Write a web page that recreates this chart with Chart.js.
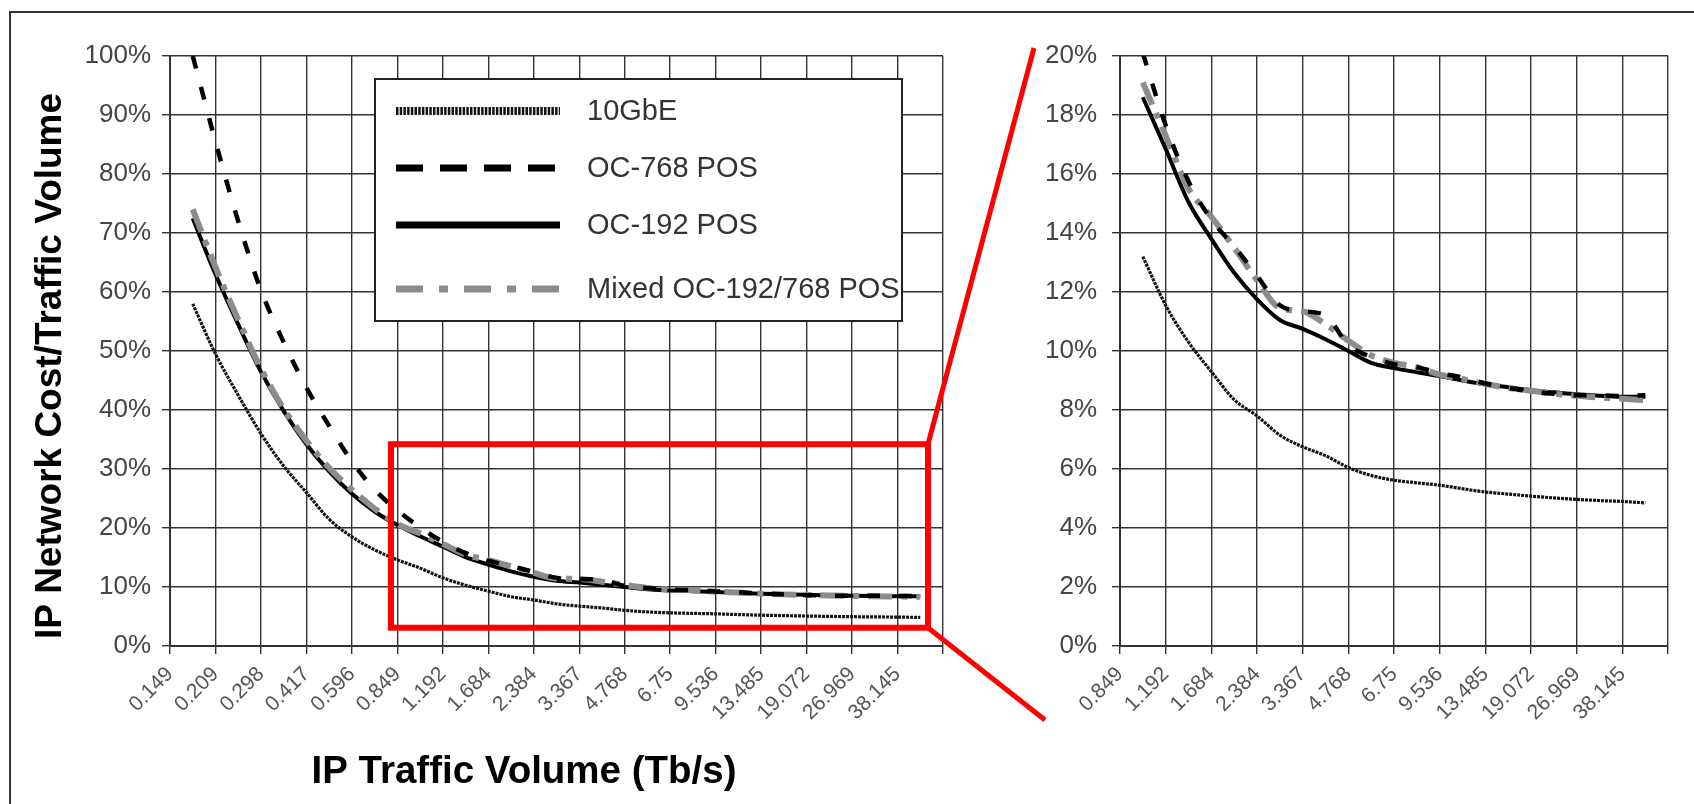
<!DOCTYPE html>
<html>
<head>
<meta charset="utf-8">
<script src="https://cdn.jsdelivr.net/npm/chart.js@4.4.1/dist/chart.umd.min.js"></script>
<style>
    html, body { margin: 0; padding: 0; background: #fff; }
    body { width: 1694px; height: 804px; position: relative; overflow: hidden; }
    .frame { position: absolute; left: 9px; top: 11px; width: 1720px; height: 820px;
             border-top: 2px solid #333; border-left: 2px solid #333; }
    #leftWrap { position: absolute; left: 0; top: 0; width: 1060px; height: 804px; }
    #rightWrap { position: absolute; left: 1000px; top: 0; width: 694px; height: 804px; }
</style>
</head>
<body>
<div class="frame"></div>
<div id="leftWrap"><canvas id="leftChart"></canvas></div>
<div id="rightWrap"><canvas id="rightChart"></canvas></div>
<script>
// Category tick labels, IP traffic volume in Tb/s
const xLabels = ['0.149', '0.209', '0.298', '0.417', '0.596', '0.849', '1.192', '1.684', '2.384',
    '3.367', '4.768', '6.75', '9.536', '13.485', '19.072', '26.969', '38.145'];

// Sample positions along the category axis (0 = first label)
const positions = [0.5, 1, 1.5, 2, 2.5, 3, 3.5, 4, 4.5, 5, 5.5, 6, 6.5, 7, 7.5, 8, 8.5,
    9, 9.5, 10, 10.5, 11, 11.5, 12, 12.5, 13, 13.5, 14, 14.5, 15, 15.5, 16, 16.5];

// Cost / traffic volume, percent
const tenGbE = [58, 49.5, 42.5, 36, 30.5, 26, 21.5, 18.5, 16.3, 14.6, 13.2, 11.55, 10.3, 9.3,
    8.35, 7.8, 7.15, 6.75, 6.45, 6.05, 5.78, 5.62, 5.53, 5.45, 5.33, 5.22, 5.15, 5.08, 5.02,
    4.97, 4.93, 4.9, 4.85];
const oc768 = [100, 85.5, 72, 60.3, 51.5, 43.8, 37.3, 31.3, 26.5, 23.0, 20.1, 17.65, 15.75,
    14.45, 13.55, 12.55, 11.55, 11.35, 11.2, 10.2, 9.8, 9.55, 9.45, 9.25, 9.1, 8.9, 8.75, 8.62,
    8.55, 8.5, 8.5, 8.47, 8.5];
const oc192 = [72.5, 63, 54.5, 46.5, 39.8, 34.2, 29.6, 25.8, 22.8, 20.5, 18.6, 16.85, 15.05,
    13.8, 12.65, 11.75, 11.05, 10.75, 10.4, 10.0, 9.6, 9.42, 9.28, 9.15, 9.0, 8.87, 8.77, 8.67,
    8.6, 8.53, 8.48, 8.45, 8.45];
const mixed = [74, 64.2, 55.3, 47, 40.2, 34.8, 30.2, 26.5, 23.3, 20.7, 19.1, 17.3, 15.5,
    14.55, 13.5, 12.4, 11.45, 11.35, 10.9, 10.35, 9.85, 9.6, 9.45, 9.2, 9.05, 8.88, 8.75, 8.65,
    8.55, 8.48, 8.42, 8.38, 8.33];

// The detail chart starts at this label
const zoomStart = xLabels.indexOf('0.849');
// Red highlight box on the overview (axis units)
const zoomBox = { from: 4.86, to: 16.67, low: 3.1, high: 34.2 };

const FONT = '"Liberation Sans", Arial, sans-serif';

function seriesDefs() {
    return [
        { label: '10GbE', values: tenGbE, color: '#141414', width: 3.2, dash: [3, 1],
          keyWidth: 8, keyDash: [2.5, 1.2], order: 2 },
        { label: 'OC-768 POS', values: oc768, color: '#000', width: 4.5, dash: [13, 19],
          keyWidth: 7, keyDash: [27, 17], order: 0 },
        { label: 'OC-192 POS', values: oc192, color: '#000', width: 4, dash: [],
          keyWidth: 7, keyDash: [], order: 3 },
        { label: 'Mixed OC-192/768 POS', values: mixed, color: '#8c8c8c', width: 6, dash: [24, 9, 6, 9],
          keyWidth: 7, keyDash: [27, 16, 9, 16], order: 1 }
    ];
}

function buildDatasets(shift) {
    return seriesDefs().map(s => {
        const pts = [];
        positions.forEach((p, i) => {
            if (p - shift > 0) pts.push({ x: p - shift, y: s.values[i] });
        });
        return {
            label: s.label,
            data: pts,
            borderColor: s.color,
            borderWidth: s.width,
            borderDash: s.dash,
            keyDash: s.keyDash,
            keyWidth: s.keyWidth,
            order: s.order,
            pointRadius: 0,
            cubicInterpolationMode: 'monotone',
            fill: false
        };
    });
}

// legend box drawn inside the overview plot
const boxLegend = {
    id: 'boxLegend',
    afterDraw(chart) {
        const ctx = chart.ctx;
        const x0 = 375, y0 = 79, w = 527, h = 242;
        const rows = [111, 168, 225, 289];
        ctx.save();
        ctx.fillStyle = '#fff';
        ctx.fillRect(x0, y0, w, h);
        ctx.lineWidth = 2;
        ctx.strokeStyle = '#222';
        ctx.strokeRect(x0, y0, w, h);
        chart.data.datasets.forEach((ds, i) => {
            const y = rows[i];
            ctx.beginPath();
            ctx.setLineDash(ds.keyDash);
            ctx.lineWidth = ds.keyWidth;
            ctx.strokeStyle = ds.borderColor;
            ctx.moveTo(x0 + 21, y);
            ctx.lineTo(x0 + 185, y);
            ctx.stroke();
            ctx.setLineDash([]);
            ctx.fillStyle = '#333';
            ctx.font = '29px ' + FONT;
            ctx.textBaseline = 'middle';
            ctx.fillText(ds.label, x0 + 212, y + 1);
        });
        ctx.restore();
    }
};

// red zoom box, connector lines and axis titles
const zoomMarks = {
    id: 'zoomMarks',
    afterDraw(chart) {
        const { ctx, scales: { x, y } } = chart;
        const l = x.getPixelForValue(zoomBox.from);
        const r = x.getPixelForValue(zoomBox.to);
        const t = y.getPixelForValue(zoomBox.high);
        const b = y.getPixelForValue(zoomBox.low);
        ctx.save();
        ctx.strokeStyle = '#ff0000';
        ctx.lineWidth = 6;
        ctx.strokeRect(l, t, r - l, b - t);
        ctx.lineWidth = 5;
        ctx.beginPath();
        ctx.moveTo(r, t);
        ctx.lineTo(1034, 48);
        ctx.moveTo(r, b);
        ctx.lineTo(1045, 720);
        ctx.stroke();
        ctx.fillStyle = '#000';
        ctx.textAlign = 'center';
        ctx.textBaseline = 'middle';
        ctx.font = 'bold 38.5px ' + FONT;
        ctx.fillText('IP Traffic Volume (Tb/s)', 524, 772);
        ctx.translate(51, 366);
        ctx.rotate(-Math.PI / 2);
        ctx.font = 'bold 37px ' + FONT;
        ctx.fillText('IP Network Cost/Traffic Volume', 0, 0);
        ctx.restore();
    }
};

function makeChart(canvasId, cfg) {
    const grid = { color: '#333', lineWidth: 1.4, tickLength: 8, drawTicks: true };
    const border = { color: '#333', width: 2 };
    return new Chart(document.getElementById(canvasId), {
        type: 'line',
        data: { datasets: buildDatasets(cfg.shift) },
        options: {
            responsive: true,
            maintainAspectRatio: false,
            animation: false,
            layout: { padding: { top: 56, right: cfg.padRight, bottom: 0, left: 0 } },
            plugins: { legend: { display: false }, tooltip: { enabled: false } },
            scales: {
                x: {
                    type: 'linear',
                    min: 0,
                    max: cfg.labels.length,
                    grid: grid,
                    border: border,
                    afterFit: s => { s.height = 158; },
                    ticks: {
                        stepSize: 1,
                        autoSkip: false,
                        minRotation: 45,
                        maxRotation: 45,
                        padding: 8,
                        color: '#555',
                        font: { family: FONT, size: 21 },
                        callback: v => cfg.labels[v] ?? ''
                    }
                },
                y: {
                    min: 0,
                    max: cfg.yMax,
                    grid: grid,
                    border: border,
                    afterFit: s => { s.width = cfg.axisWidth; },
                    ticks: {
                        stepSize: cfg.yStep,
                        padding: cfg.tickPad,
                        color: '#444',
                        font: { family: FONT, size: 26 },
                        callback: v => v + '%'
                    }
                }
            }
        },
        plugins: cfg.plugins
    });
}

makeChart('leftChart', {
    shift: 0,
    labels: xLabels,
    yMax: 100,
    yStep: 10,
    axisWidth: 170,
    padRight: 117,
    tickPad: 11,
    plugins: [boxLegend, zoomMarks]
});

makeChart('rightChart', {
    shift: zoomStart,
    labels: xLabels.slice(zoomStart),
    yMax: 20,
    yStep: 2,
    axisWidth: 120,
    padRight: 9,
    tickPad: 15,
    plugins: []
});
</script>
</body>
</html>
